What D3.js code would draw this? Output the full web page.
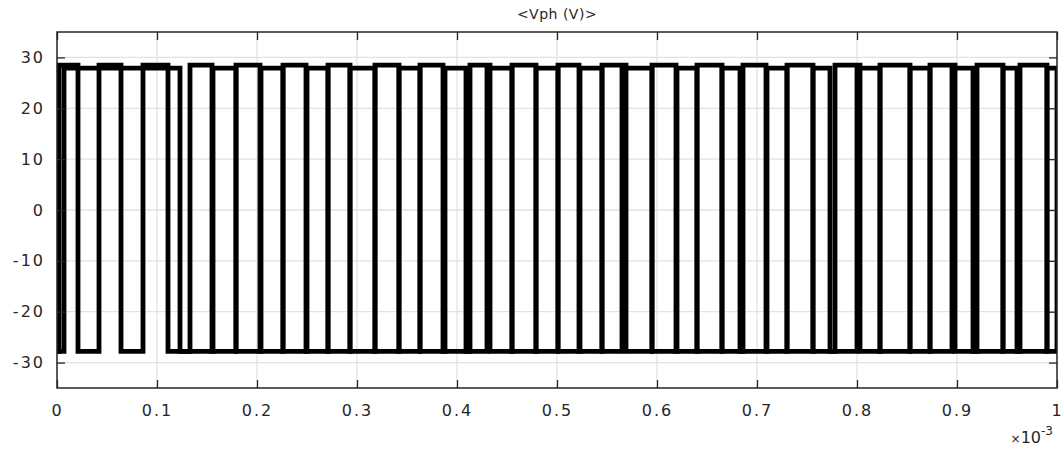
<!DOCTYPE html>
<html>
<head>
<meta charset="utf-8">
<script src="https://cdn.jsdelivr.net/npm/d3@7"></script>
<style>
  body { margin: 0; background: #fff; }
  text { font-family: "DejaVu Sans", sans-serif; fill: #262626; }
</style>
</head>
<body>
<svg id="chart" width="1064" height="454"></svg>
<script>
// x values in units of 1e-3 s
var xTicks = [0, 0.1, 0.2, 0.3, 0.4, 0.5, 0.6, 0.7, 0.8, 0.9, 1];
var yTicks = [-30, -20, -10, 0, 10, 20, 30];

// trace A: intervals where it sits at the high level
var aHigh = [[0.002,0.021],[0.042,0.064],[0.086,0.111],[0.133,0.155],[0.179,0.203],
  [0.226,0.249],[0.271,0.293],[0.318,0.342],[0.363,0.386],[0.413,0.433],[0.455,0.479],
  [0.501,0.522],[0.545,0.569],[0.595,0.619],[0.640,0.665],[0.686,0.709],[0.730,0.756],
  [0.778,0.803],[0.823,0.853],[0.873,0.898],[0.920,0.946],[0.963,0.990]];
// trace B: intervals where it sits at the high level
var bHigh = [[0.007,0.123],[0.156,0.179],[0.204,0.226],[0.250,0.271],[0.293,0.318],
  [0.342,0.363],[0.388,0.409],[0.430,0.455],[0.479,0.501],[0.523,0.545],[0.565,0.595],
  [0.620,0.640],[0.665,0.683],[0.710,0.730],[0.756,0.773],[0.800,0.823],[0.853,0.873],
  [0.895,0.916],[0.946,0.960],[0.990,1.0]];
var aLevel = 28.5, bLevel = 27.9, lowLevel = -27.8;

var svg = d3.select("#chart"),
    margin = {top: 32, right: 7, bottom: 66, left: 57},
    width = 1064 - margin.left - margin.right,
    height = 454 - margin.top - margin.bottom,
    g = svg.append("g").attr("transform", "translate(" + margin.left + "," + margin.top + ")");

var x = d3.scaleLinear().domain([0, 1]).range([0, width]);
var y = d3.scaleLinear().domain([-35, 35]).range([height, 0]);

// grid
g.append("g").selectAll("line").data(xTicks).enter().append("line")
  .attr("x1", function(d){ return x(d); }).attr("x2", function(d){ return x(d); })
  .attr("y1", 0).attr("y2", height)
  .attr("stroke", "#e2e2e2").attr("stroke-width", 1.3);
g.append("g").selectAll("line").data(yTicks).enter().append("line")
  .attr("y1", function(d){ return y(d); }).attr("y2", function(d){ return y(d); })
  .attr("x1", 0).attr("x2", width)
  .attr("stroke", "#e2e2e2").attr("stroke-width", 1.3);

// step traces
function stepPoints(intervals, hi) {
  var pts = [[0, lowLevel]];
  intervals.forEach(function(iv){
    pts.push([iv[0], lowLevel], [iv[0], hi], [iv[1], hi], [iv[1], lowLevel]);
  });
  pts.push([1, lowLevel]);
  return pts;
}
var line = d3.line().x(function(d){ return x(d[0]); }).y(function(d){ return y(d[1]); });

svg.append("defs").append("clipPath").attr("id", "clip")
  .append("rect").attr("width", width).attr("height", height);

var plot = g.append("g").attr("clip-path", "url(#clip)");
[[bHigh, bLevel], [aHigh, aLevel]].forEach(function(tr){
  plot.append("path")
    .attr("d", line(stepPoints(tr[0], tr[1])))
    .attr("fill", "none")
    .attr("stroke", "#000")
    .attr("stroke-width", 4.8)
    .attr("stroke-linejoin", "miter");
});

// axes (MATLAB style box with inward ticks)
var tickLen = 8;
var xAxis = d3.axisBottom(x).tickValues(xTicks).tickSizeInner(-tickLen).tickSizeOuter(0)
  .tickPadding(17).tickFormat(function(d){ return d; });
var yAxis = d3.axisLeft(y).tickValues(yTicks).tickSizeInner(-tickLen).tickSizeOuter(0)
  .tickPadding(12).tickFormat(function(d){ return d; });

var xa = g.append("g").attr("transform", "translate(0," + height + ")").call(xAxis);
var ya = g.append("g").call(yAxis);
var xt = g.append("g").call(d3.axisTop(x).tickValues(xTicks).tickSizeInner(-tickLen).tickSizeOuter(0).tickFormat(""));
var yr = g.append("g").attr("transform", "translate(" + width + ",0)")
  .call(d3.axisRight(y).tickValues(yTicks).tickSizeInner(-tickLen).tickSizeOuter(0).tickFormat(""));

[xa, ya, xt, yr].forEach(function(a){
  a.select(".domain").remove();
  a.selectAll(".tick line").attr("stroke", "#262626").attr("stroke-width", 1.3);
  a.selectAll(".tick text").attr("font-size", "16px").attr("letter-spacing", "2px")
    .attr("font-family", "DejaVu Sans").attr("fill", "#262626");
});

g.append("rect").attr("width", width).attr("height", height)
  .attr("fill", "none").attr("stroke", "#262626").attr("stroke-width", 1.5);

// title
svg.append("text").attr("x", margin.left + width / 2).attr("y", 19)
  .attr("text-anchor", "middle").attr("font-size", "14px").attr("letter-spacing", "0.5px")
  .text("<Vph (V)>");

// exponent label
var ex = svg.append("text").attr("x", 1053).attr("y", 443).attr("text-anchor", "end")
  .attr("font-size", "16px");
ex.append("tspan").attr("font-size", "12px").text("\u00d7");
ex.append("tspan").text("10");
ex.append("tspan").attr("dy", -8).attr("font-size", "12px").text("-3");
</script>
</body>
</html>
